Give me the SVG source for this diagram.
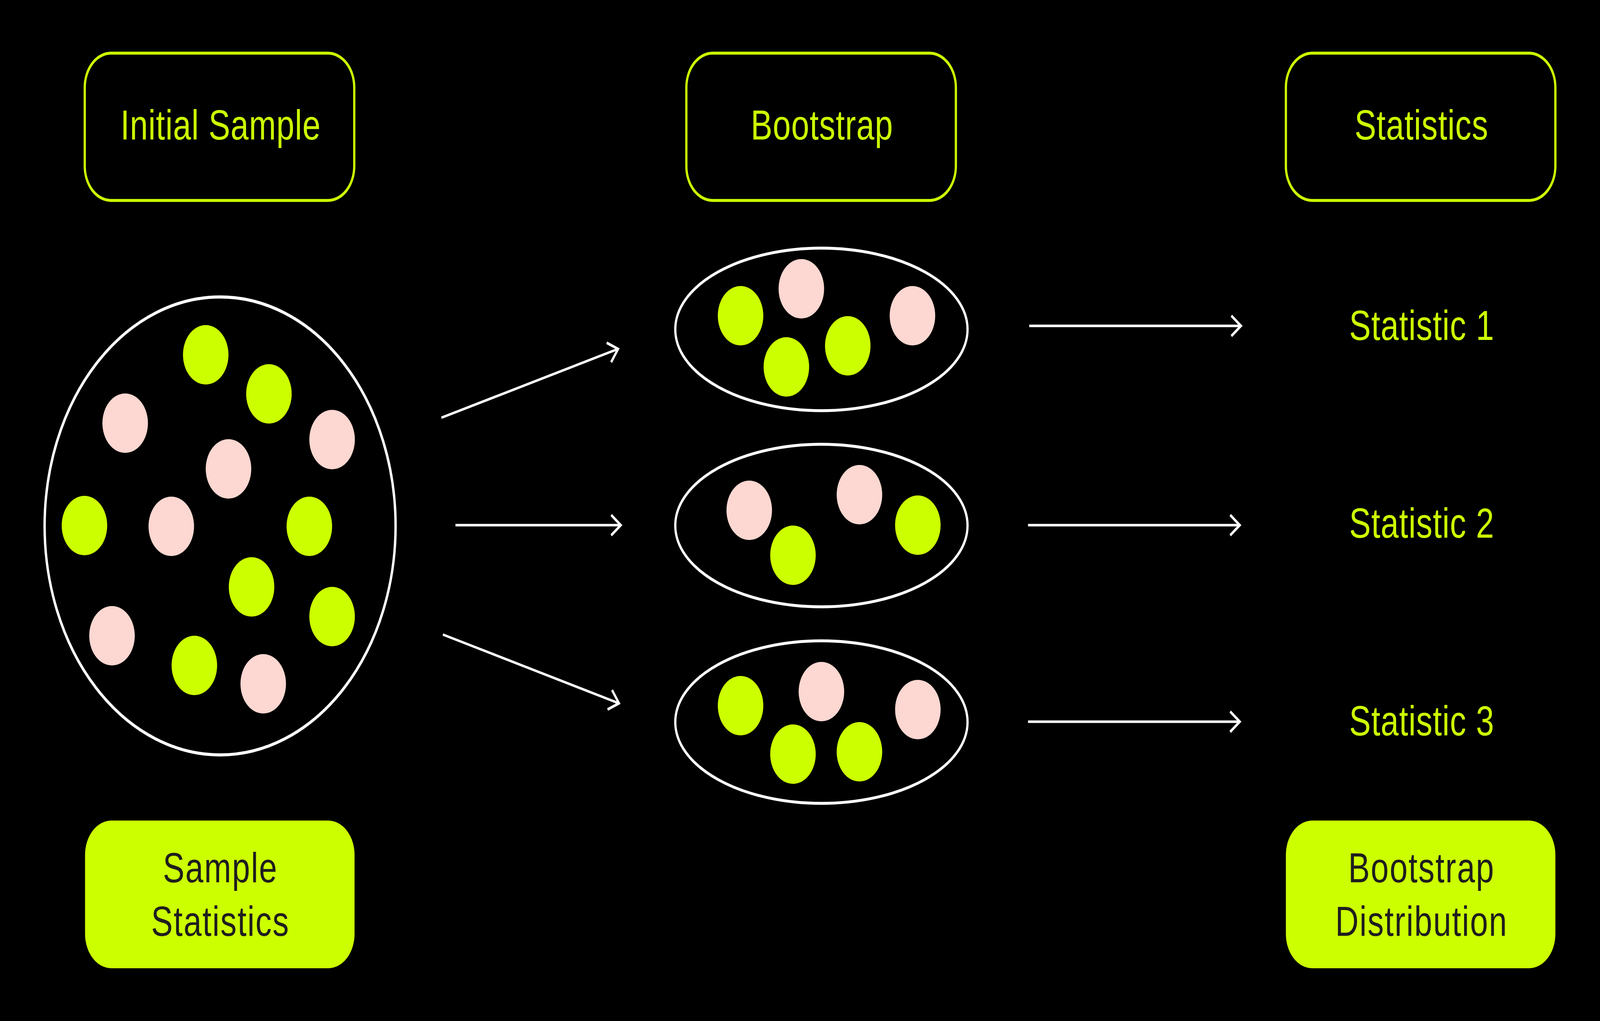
<svg xmlns="http://www.w3.org/2000/svg" width="5343" height="2613" viewBox="0 0 5343 2613" preserveAspectRatio="none">
<defs>
<style>
svg:root{width:100vw;height:100vh;background:#000000}
.hdr{fill:none;stroke:#CCFF00;stroke-width:7.5}
.fill{fill:#CCFF00}
.t{font-family:"Liberation Sans",Arial,sans-serif;font-size:108px;text-anchor:middle;letter-spacing:1.5px}
.tg{fill:#CCFF00}
.td{fill:#1E1E1E;letter-spacing:3px}
.g{fill:#CCFF00}
.p{fill:#FDD7D1}
.ring{fill:none;stroke:#FFFFFF;stroke-width:7.5}
.con{fill:none;stroke:#FFFFFF;stroke-width:6.5;marker-end:url(#ah)}
</style>
<marker id="ah" markerUnits="userSpaceOnUse" viewBox="-40 -32 48 64" refX="0" refY="0" markerWidth="48" markerHeight="64" orient="auto" overflow="visible">
<path d="M-32,-26 L0,0 L-32,26" fill="none" stroke="#FFFFFF" stroke-width="7"/>
</marker>
</defs>
<rect width="5343" height="2613" fill="#000000"/>

<g id="initial-sample">
<rect class="hdr" x="283" y="136" width="900" height="377" rx="88"/>
<text class="t tg" x="737" y="357">Initial Sample</text>
</g>
<g id="bootstrap">
<rect class="hdr" x="2292" y="136" width="900" height="377" rx="88"/>
<text class="t tg" x="2745" y="357">Bootstrap</text>
</g>
<g id="statistics">
<rect class="hdr" x="4294" y="136" width="900" height="377" rx="88"/>
<text class="t tg" x="4747" y="357">Statistics</text>
</g>

<g id="sample-population">
<circle class="ring" cx="735" cy="1346" r="586" style="stroke-width:8"/>
<circle class="g" cx="687" cy="908" r="76"/>
<circle class="g" cx="898" cy="1008" r="76"/>
<circle class="p" cx="418" cy="1083" r="76"/>
<circle class="p" cx="1109" cy="1125" r="76"/>
<circle class="p" cx="763" cy="1200" r="76"/>
<circle class="g" cx="282" cy="1345" r="76"/>
<circle class="p" cx="572" cy="1347" r="76"/>
<circle class="g" cx="1033" cy="1347" r="76"/>
<circle class="g" cx="840" cy="1502" r="76"/>
<circle class="g" cx="1109" cy="1578" r="76"/>
<circle class="p" cx="374" cy="1627" r="76"/>
<circle class="g" cx="649" cy="1703" r="76"/>
<circle class="p" cx="879" cy="1750" r="76"/>
</g>

<g id="resample-1">
<ellipse class="ring" cx="2743" cy="843" rx="488" ry="208"/>
<circle class="g" cx="2473" cy="808" r="76"/>
<circle class="p" cx="2676" cy="739" r="76"/>
<circle class="g" cx="2626" cy="939" r="76"/>
<circle class="g" cx="2831" cy="885" r="76"/>
<circle class="p" cx="3047" cy="808" r="76"/>
</g>
<g id="resample-2">
<ellipse class="ring" cx="2743" cy="1345" rx="488" ry="208"/>
<circle class="p" cx="2502" cy="1306" r="76"/>
<circle class="p" cx="2870" cy="1266" r="76"/>
<circle class="g" cx="3065" cy="1344" r="76"/>
<circle class="g" cx="2648" cy="1421" r="76"/>
</g>
<g id="resample-3">
<ellipse class="ring" cx="2743" cy="1848" rx="488" ry="208"/>
<circle class="g" cx="2473" cy="1806" r="76"/>
<circle class="p" cx="2743" cy="1770" r="76"/>
<circle class="p" cx="3065" cy="1816" r="76"/>
<circle class="g" cx="2648" cy="1930" r="76"/>
<circle class="g" cx="2870" cy="1924" r="76"/>
</g>

<g id="statistic-1"><text class="t tg" x="4748" y="870">Statistic 1</text></g>
<g id="statistic-2"><text class="t tg" x="4748" y="1376">Statistic 2</text></g>
<g id="statistic-3"><text class="t tg" x="4748" y="1882">Statistic 3</text></g>

<g id="sample-statistics">
<rect class="fill" x="284" y="2100" width="900" height="378" rx="88"/>
<text class="t td" x="736" y="2258">Sample</text>
<text class="t td" x="736" y="2395">Statistics</text>
</g>
<g id="bootstrap-distribution">
<rect class="fill" x="4294" y="2100" width="900" height="378" rx="88"/>
<text class="t td" x="4747" y="2258">Bootstrap</text>
<text class="t td" x="4747" y="2395">Distribution</text>
</g>

<g id="connectors">
<path class="con" d="M1474,1069 L2064,893"/>
<path class="con" d="M1521,1344 L2073,1344"/>
<path class="con" d="M1479,1624 L2067,1800"/>
<path class="con" d="M3437,834 L4144,834"/>
<path class="con" d="M3433,1344 L4140,1344"/>
<path class="con" d="M3433,1847 L4140,1847"/>
</g>
</svg>
